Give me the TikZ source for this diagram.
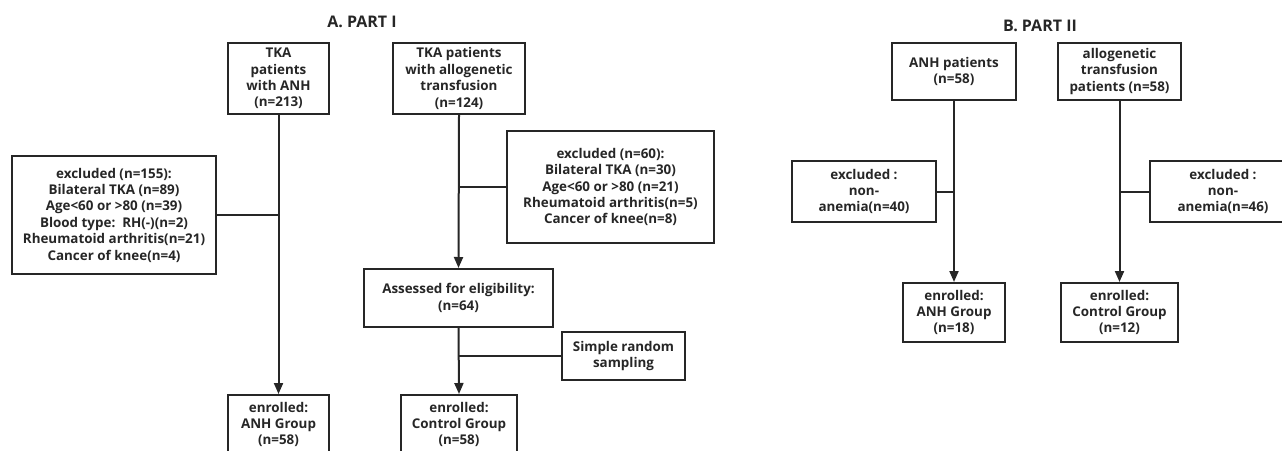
\documentclass[tikz,border=0pt]{standalone}
\usepackage{fontspec}
\setmainfont{Open Sans}[BoldFont={Open Sans Bold}]
\usetikzlibrary{arrows.meta}
\definecolor{ln}{HTML}{262626}
\begin{document}
\begin{tikzpicture}[x=1pt,y=-1pt,
  box/.style={draw=ln,line width=2pt,rectangle,inner sep=0pt,align=center,
    font=\bfseries\fontsize{13.4}{16.4}\selectfont,text=ln},
  conn/.style={draw=ln,line width=2pt},
  arr/.style={conn,-{Triangle[length=11pt,width=9pt]}},
  ttl/.style={font=\bfseries\fontsize{16}{19}\selectfont,text=ln}]
\useasboundingbox (0,0) rectangle (1282,450);
% titles
\node[ttl] (ta) at (362,22) {A. PART I};
\node[ttl] (tb) at (1040,26) {B. PART II};
% Part A
\node[box,minimum width=101,minimum height=71] (b1) at (278.5,78.5) {TKA\\patients\\with ANH\\(n=213)};
\node[box,minimum width=132,minimum height=71] (b2) at (459,78.5) {TKA patients\\with allogenetic\\transfusion\\(n=124)};
\node[box,minimum width=204,minimum height=118] (ex1) at (114,215) {excluded (n=155):\\Bilateral TKA (n=89)\\Age<60 or >80 (n=39)\\Blood type:~~RH(-)(n=2)\\Rheumatoid arthritis(n=21)\\Cancer of knee(n=4)};
\node[box,minimum width=207,minimum height=112] (ex2) at (610.5,187) {excluded (n=60):\\Bilateral TKA (n=30)\\Age<60 or >80 (n=21)\\Rheumatoid arthritis(n=5)\\Cancer of knee(n=8)};
\node[box,minimum width=189,minimum height=58] (as) at (458.5,298) {Assessed for eligibility:\\(n=64)};
\node[box,minimum width=123,minimum height=48] (sr) at (623.5,356) {Simple random\\sampling};
\node[box,minimum width=101,minimum height=59] (e1) at (278.5,424.5) {enrolled:\\ANH Group\\(n=58)};
\node[box,minimum width=116,minimum height=59] (e2) at (459,424.5) {enrolled:\\Control Group\\(n=58)};
\draw[arr] (b1.south) -- (e1.north);
\draw[conn] (ex1.east) -- (ex1.east -| b1.south);
\draw[arr] (b2.south) -- (as.north);
\draw[conn] (ex2.west) -- (ex2.west -| b2.south);
\draw[arr] (as.south) -- (e2.north);
\draw[conn] (sr.west) -- (sr.west -| as.south);
% Part B
\node[box,minimum width=124,minimum height=57] (p1) at (954,71.5) {ANH patients\\(n=58)};
\node[box,minimum width=123,minimum height=57] (p2) at (1119.5,71.5) {allogenetic\\transfusion\\patients (n=58)};
\node[box,minimum width=144,minimum height=61] (x1) at (864,191.5) {excluded :\\non-\\anemia(n=40)};
\node[box,minimum width=146,minimum height=61] (x2) at (1223,191.5) {excluded :\\non-\\anemia(n=46)};
\node[box,minimum width=102,minimum height=59] (f1) at (954,312.5) {enrolled:\\ANH Group\\(n=18)};
\node[box,minimum width=117,minimum height=59] (f2) at (1119.5,312.5) {enrolled:\\Control Group\\(n=12)};
\draw[arr] (p1.south) -- (f1.north);
\draw[conn] (x1.east) -- (x1.east -| p1.south);
\draw[arr] (p2.south) -- (f2.north);
\draw[conn] (x2.west) -- (x2.west -| p2.south);
\end{tikzpicture}
\end{document}
